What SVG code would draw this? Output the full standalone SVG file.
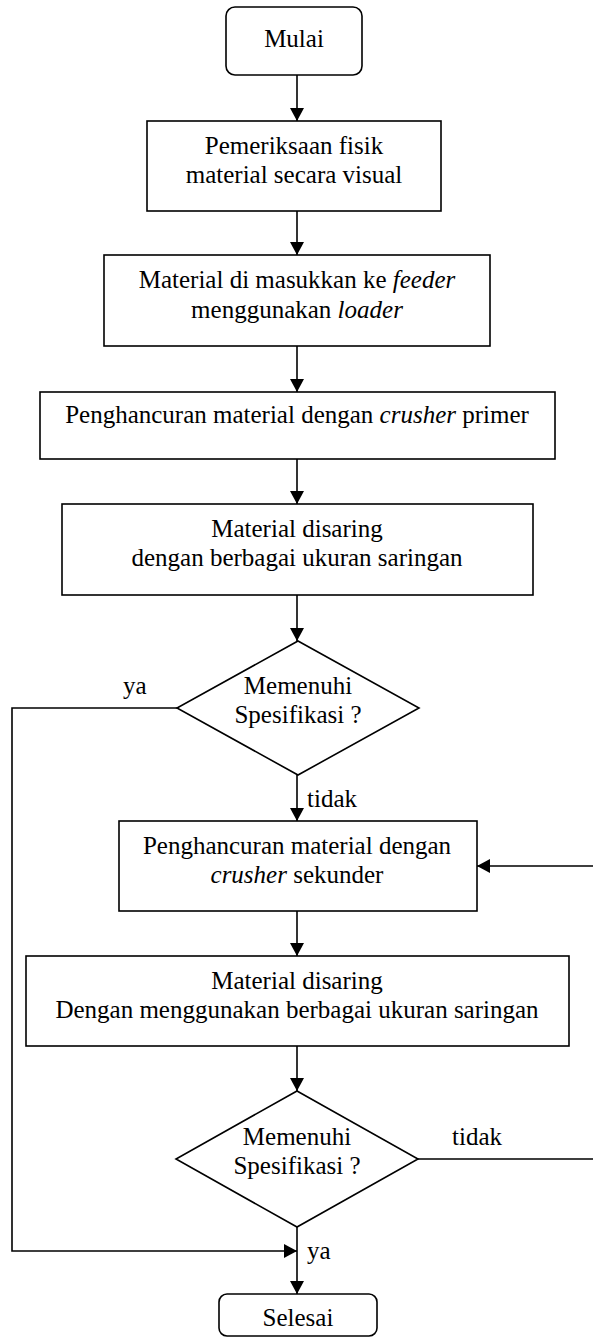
<svg xmlns="http://www.w3.org/2000/svg" width="593" height="1338" viewBox="0 0 593 1338">
<style>
.box{fill:#fff;stroke:#000;stroke-width:1.6}
.ln{fill:none;stroke:#000;stroke-width:1.6}
text{font-family:"Liberation Serif","Times New Roman",serif;font-size:25px;fill:#000}
.c{text-anchor:middle}
.i{font-style:italic}
</style>
<defs>
<marker id="ah" markerUnits="userSpaceOnUse" markerWidth="14" markerHeight="14" refX="13" refY="7" orient="auto">
<path d="M0,0 L13,7 L0,14 z" fill="#000"/>
</marker>
</defs>
<g id="connectors">
<path class="ln" d="M297,75 V121" marker-end="url(#ah)"/>
<path class="ln" d="M297,211 V255" marker-end="url(#ah)"/>
<path class="ln" d="M297,346 V392" marker-end="url(#ah)"/>
<path class="ln" d="M297,459 V504" marker-end="url(#ah)"/>
<path class="ln" d="M297,595 V641" marker-end="url(#ah)"/>
<path class="ln" d="M297,775 V821" marker-end="url(#ah)"/>
<path class="ln" d="M297,911 V956" marker-end="url(#ah)"/>
<path class="ln" d="M297,1046 V1091" marker-end="url(#ah)"/>
<path class="ln" d="M297,1227 V1294" marker-end="url(#ah)"/>
<path class="ln" d="M177,708 H12 V1251 H297" marker-end="url(#ah)"/>
<path class="ln" d="M418,1159 H595 V866 H477" marker-end="url(#ah)"/>
<text x="123" y="694">ya</text>
<text x="307" y="807">tidak</text>
<text x="452" y="1145">tidak</text>
<text x="307" y="1259">ya</text>
</g>
<g id="mulai">
<rect class="box" x="226" y="7" width="136" height="68" rx="9"/>
<text class="c" x="294" y="47">Mulai</text>
</g>
<g id="pemeriksaan">
<rect class="box" x="147" y="121" width="294" height="90"/>
<text class="c" x="294" y="154">Pemeriksaan fisik</text>
<text class="c" x="294" y="183">material secara visual</text>
</g>
<g id="feeder">
<rect class="box" x="104" y="255" width="386" height="91"/>
<text class="c" x="297" y="288">Material di masukkan ke <tspan class="i">feeder</tspan></text>
<text class="c" x="297" y="318">menggunakan <tspan class="i">loader</tspan></text>
</g>
<g id="primer">
<rect class="box" x="40" y="392" width="515" height="67"/>
<text class="c" x="297" y="423">Penghancuran material dengan <tspan class="i">crusher</tspan> primer</text>
</g>
<g id="saring1">
<rect class="box" x="62" y="504" width="471" height="91"/>
<text class="c" x="297" y="537">Material disaring</text>
<text class="c" x="297" y="566">dengan berbagai ukuran saringan</text>
</g>
<g id="cek1">
<polygon class="box" points="298,641 419,708 298,775 177,708"/>
<text class="c" x="298" y="694">Memenuhi</text>
<text class="c" x="298" y="723">Spesifikasi ?</text>
</g>
<g id="sekunder">
<rect class="box" x="119" y="821" width="358" height="90"/>
<text class="c" x="297" y="854">Penghancuran material dengan</text>
<text class="c" x="297" y="883"><tspan class="i">crusher</tspan> sekunder</text>
</g>
<g id="saring2">
<rect class="box" x="26" y="956" width="543" height="90"/>
<text class="c" x="297" y="989">Material disaring</text>
<text class="c" x="297" y="1018">Dengan menggunakan berbagai ukuran saringan</text>
</g>
<g id="cek2">
<polygon class="box" points="297,1091 418,1159 297,1227 176,1159"/>
<text class="c" x="297" y="1145">Memenuhi</text>
<text class="c" x="297" y="1174">Spesifikasi ?</text>
</g>
<g id="selesai">
<rect class="box" x="219" y="1294" width="158" height="42" rx="8"/>
<text class="c" x="298" y="1326">Selesai</text>
</g>
</svg>
